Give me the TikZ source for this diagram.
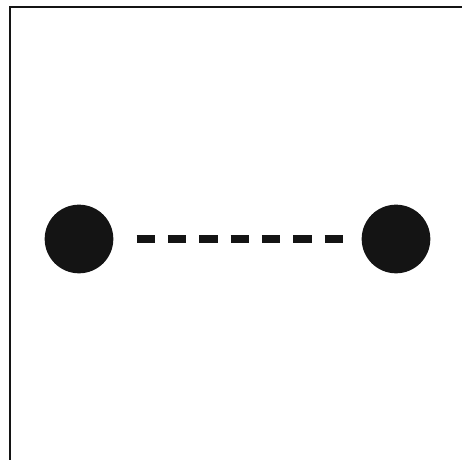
\documentclass[tikz,border=0pt]{standalone}
\usepackage{tikz}

\definecolor{scanBlack}{RGB}{20,20,20}

\begin{document}
\begin{tikzpicture}[x=0.03cm, y=-0.03cm,
  blob/.style={circle, fill=scanBlack, inner sep=0pt, minimum size=2.06cm},
  link/.style={scanBlack, line width=0.24cm, line cap=butt,
    dash pattern=on 0.55cm off 0.39cm}]
\useasboundingbox (0,0) rectangle (462,460);
%% Frame (top and left edges of the scanned box)
\coordinate (frameTop) at (10,7);
\coordinate (frameTopEnd) at (462,7);
\coordinate (frameBottom) at (10,460);
\draw[scanBlack, line width=0.05cm] (frameTopEnd) -- (frameTop) -- (frameBottom);
%% The two bodies and the bond between them
\node[blob] (leftBody)  at (79,239)  {};
\node[blob] (rightBody) at (396,239) {};
\draw[link, shorten <=0.69cm, shorten >=0.56cm] (leftBody.east) -- (rightBody.west);
\end{tikzpicture}
\end{document}
